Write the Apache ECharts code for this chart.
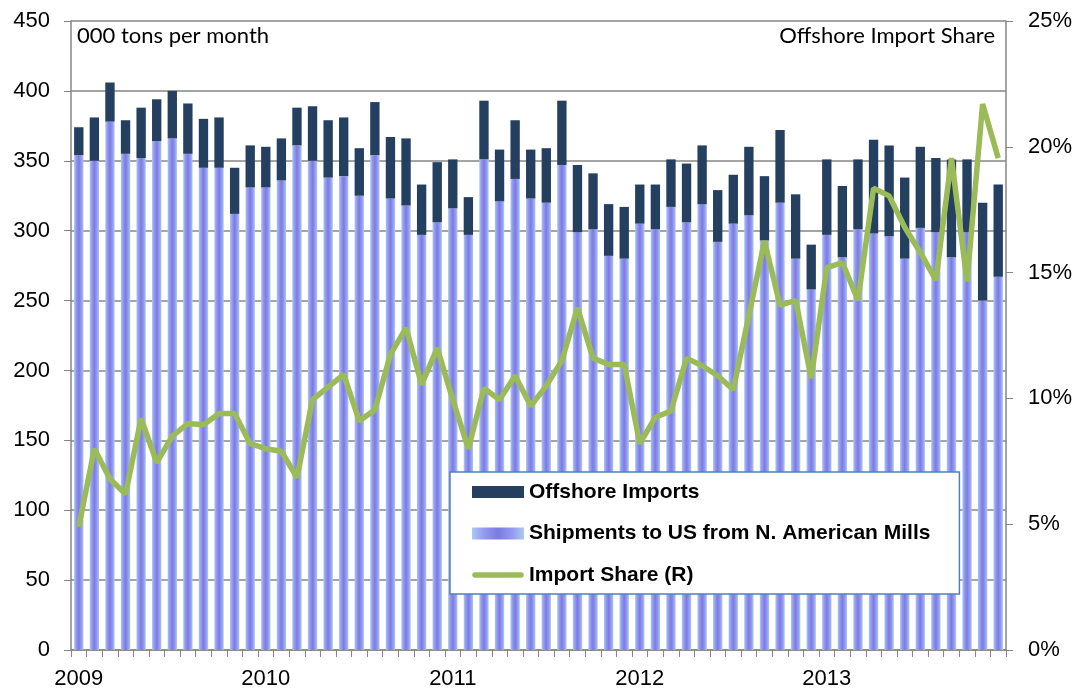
<!DOCTYPE html>
<html>
<head>
<meta charset="utf-8">
<script src="https://cdn.jsdelivr.net/npm/echarts@6/dist/echarts.min.js"></script>
<style>
html,body{margin:0;padding:0;background:#fff;}
#chart{width:1078px;height:690px;}
</style>
</head>
<body>
<div id="chart"></div>
<script>
// ---- data ----
const years = ["2009", "2010", "2011", "2012", "2013"];
const months = ["Jan","Feb","Mar","Apr","May","Jun","Jul","Aug","Sep","Oct","Nov","Dec"];
// total (top of stacked bar), thousand tons per month
const totals = [
  374, 381, 406, 379, 388, 394, 400, 391, 380, 381, 345, 361,
  360, 366, 388, 389, 379, 381, 359, 392, 367, 366, 333, 349,
  351, 324, 393, 358, 379, 358, 359, 393, 347, 341, 319, 317,
  333, 333, 351, 348, 361, 329, 340, 360, 339, 372, 326, 290,
  351, 332, 351, 365, 361, 338, 360, 352, 351, 351, 320, 333
];
// shipments to US from N. American mills
const shipments = [
  354, 350, 378, 355, 352, 364, 366, 355, 345, 345, 312, 331,
  331, 336, 361, 350, 338, 339, 325, 354, 323, 318, 297, 306,
  316, 297, 351, 321, 337, 323, 320, 347, 299, 301, 282, 280,
  305, 301, 317, 306, 319, 292, 305, 311, 293, 320, 280, 258,
  297, 281, 301, 298, 296, 280, 302, 299, 281, 299, 250, 267
];
// import share, %
const importShare = [
  4.9, 8.0, 6.8, 6.2, 9.2, 7.45, 8.5, 9.0, 8.95, 9.4, 9.4, 8.2,
  8.0, 7.9, 6.85, 9.95, 10.45, 10.95, 9.1, 9.55, 11.75, 12.8, 10.55, 12.0,
  9.95, 8.0, 10.4, 9.95, 10.9, 9.7, 10.5, 11.5, 13.6, 11.6, 11.35, 11.35,
  8.2, 9.25, 9.5, 11.6, 11.3, 10.9, 10.35, 13.3, 16.25, 13.7, 13.9, 10.8,
  15.2, 15.4, 13.9, 18.35, 18.05, 16.8, 15.8, 14.7, 19.55, 14.65, 21.7, 19.55
];
const leftTicks = [0, 50, 100, 150, 200, 250, 300, 350, 400, 450];
const rightTicks = [0, 5, 10, 15, 20, 25];

// derived for the library
const categories = [];
years.forEach(y => months.forEach(m => categories.push(m + " " + y)));
const imports = totals.map((t, i) => t - shipments[i]);

const chart = echarts.init(document.getElementById('chart'));
const axisGrey = '#868686';
const font = '"Liberation Sans", Arial, sans-serif';

const shipGradient = new echarts.graphic.LinearGradient(0, 0, 1, 0, [
  {offset: 0, color: '#adc9f0'},
  {offset: 0.22, color: '#949bf2'},
  {offset: 0.5, color: '#7c7be0'},
  {offset: 0.78, color: '#949bf2'},
  {offset: 1, color: '#adc9f0'}
]);

// thin rounded strip inside a 52x12 box (legend icon for the line)
const lineIcon = 'path://M0,0 M52,12 M3,3.25 L49,3.25 A2.75,2.75 0 0 1 49,8.75 L3,8.75 A2.75,2.75 0 0 1 3,3.25 Z';

chart.setOption({
  animation: false,
  backgroundColor: '#fff',
  grid: {left: 71, right: 72, top: 21, bottom: 40, containLabel: false},
  legend: {
    orient: 'vertical',
    left: 450, top: 472,
    backgroundColor: '#fff',
    borderColor: '#4f81bd',
    borderWidth: 1.5,
    padding: [9, 29, 8, 22],
    itemGap: 19.5,
    itemWidth: 52,
    itemHeight: 12,
    textStyle: {fontFamily: font, fontSize: 21, fontWeight: 'bold', color: '#000', lineHeight: 22},
    data: [
      {name: 'Offshore Imports', icon: 'rect'},
      {name: 'Shipments to US from N. American Mills', icon: 'rect'},
      {name: 'Import Share (R)', icon: lineIcon, itemStyle: {color: '#9bbb59', borderWidth: 0}}
    ]
  },
  xAxis: {
    type: 'category',
    data: categories,
    boundaryGap: true,
    axisLine: {lineStyle: {color: axisGrey, width: 1.5}},
    axisTick: {show: true, interval: 0, length: 7, lineStyle: {color: axisGrey, width: 1}},
    axisLabel: {
      interval: 0,
      margin: 18,
      fontFamily: font, fontSize: 22, color: '#000',
      formatter: (v, i) => (i % 12 === 0 ? years[i / 12] : '')
    }
  },
  yAxis: [
    {
      type: 'value', min: 0, max: 450, interval: 50,
      axisLine: {show: true, lineStyle: {color: axisGrey, width: 1.5}},
      axisTick: {show: true, length: 7, lineStyle: {color: axisGrey}},
      splitLine: {show: true, lineStyle: {color: axisGrey, width: 1.5}},
      axisLabel: {fontFamily: font, fontSize: 22, color: '#000', margin: 21,
        formatter: v => (leftTicks.indexOf(v) >= 0 ? String(v) : '')}
    },
    {
      type: 'value', min: 0, max: 25, interval: 5, position: 'right',
      axisLine: {show: true, lineStyle: {color: axisGrey, width: 1.5}},
      axisTick: {show: true, length: 7, lineStyle: {color: axisGrey}},
      splitLine: {show: false},
      axisLabel: {fontFamily: font, fontSize: 22, color: '#000', margin: 22,
        formatter: v => (rightTicks.indexOf(v) >= 0 ? v + '%' : '')}
    }
  ],
  graphic: [
    {type: 'text', left: 77, top: 25, style: {text: '000 tons per month', fontFamily: 'Lato, "Open Sans", sans-serif', fontSize: 22, fill: '#000'}},
    {type: 'text', right: 83, top: 25, style: {text: 'Offshore Import Share', fontFamily: 'Lato, "Open Sans", sans-serif', fontSize: 22, fill: '#000'}}
  ],
  series: [
    {
      name: 'Shipments to US from N. American Mills',
      type: 'bar', stack: 'total', yAxisIndex: 0,
      data: shipments, barWidth: '60%',
      itemStyle: {color: shipGradient}
    },
    {
      name: 'Offshore Imports',
      type: 'bar', stack: 'total', yAxisIndex: 0,
      data: imports, barWidth: '60%',
      itemStyle: {color: '#243f60'}
    },
    {
      name: 'Import Share (R)',
      type: 'line', yAxisIndex: 1,
      data: importShare,
      symbol: 'none',
      lineStyle: {color: '#9bbb59', width: 5.5},
      itemStyle: {color: '#9bbb59'},
      z: 5
    }
  ]
});
</script>
</body>
</html>
